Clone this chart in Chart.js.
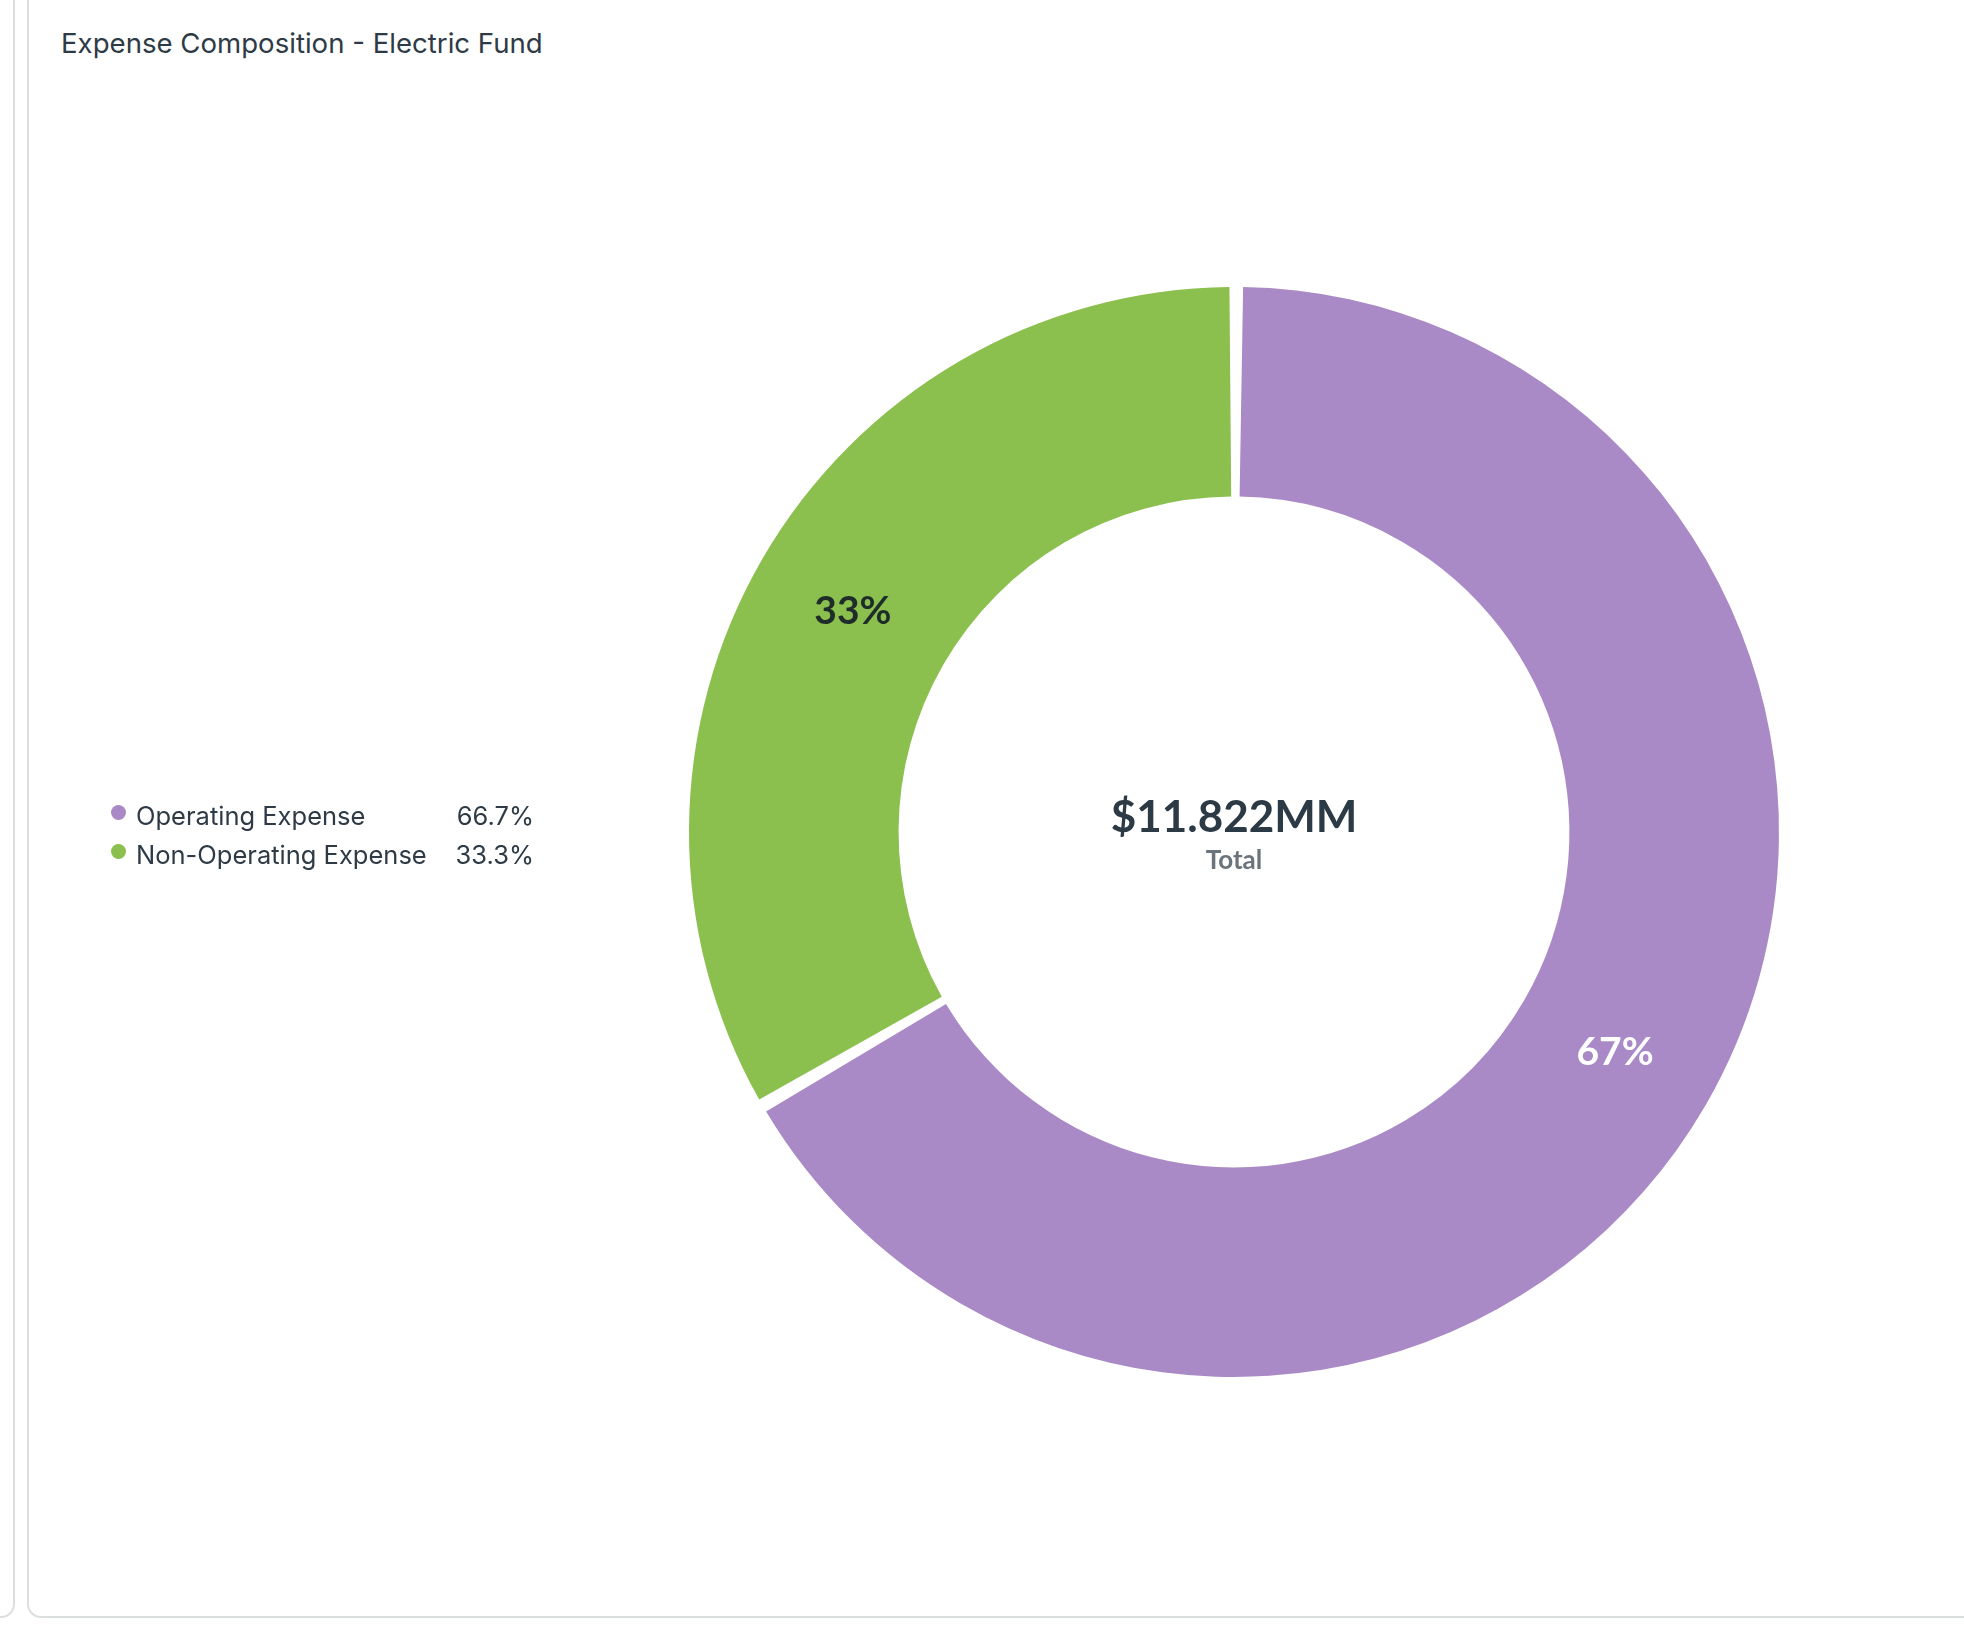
<!DOCTYPE html>
<html lang="en">
<head>
    <meta charset="UTF-8">
    <title>Expense Composition - Electric Fund</title>
    <script src="https://cdn.jsdelivr.net/npm/chart.js"></script>
    <style>
        html, body {
            margin: 0;
            padding: 0;
            background: #fff;
            overflow: hidden;
        }
        #page {
            position: relative;
            width: 1964px;
            height: 1627px;
        }
        .card {
            position: absolute;
            border: 2px solid #dcdfe0;
            border-radius: 14px;
            box-sizing: border-box;
        }
        #prevCard {
            left: -120px;
            width: 135px;
            top: -30px;
            height: 1648px;
        }
        #mainCard {
            left: 27px;
            width: 2000px;
            top: -30px;
            height: 1648px;
        }
        #title {
            position: absolute;
            left: 61px;
            top: 26px;
            font-family: Inter, "Noto Sans", sans-serif;
            font-size: 27.6px;
            font-weight: 400;
            color: #2e3b46;
        }
        #legend {
            position: absolute;
            left: 111px;
            top: 796px;
            width: 423px;
            font-family: Inter, "Noto Sans", sans-serif;
            font-size: 25.5px;
            color: #2e3b46;
            white-space: nowrap;
        }
        .legend-row {
            display: flex;
            align-items: center;
            height: 39px;
        }
        .legend-dot {
            flex: none;
            width: 15px;
            height: 15px;
            border-radius: 50%;
            margin-right: 10px;
            margin-top: -6px;
        }
        .legend-value {
            margin-left: auto;
            text-align: right;
        }
        #chartBox {
            position: absolute;
            left: 0;
            top: 0;
            width: 1964px;
            height: 1627px;
        }
    </style>
</head>
<body>
<div id="page">
    <div class="card" id="prevCard"></div>
    <div class="card" id="mainCard"></div>
    <div id="title">Expense Composition - Electric Fund</div>
    <div id="chartBox"><canvas id="expenseChart"></canvas></div>
    <div id="legend"></div>
</div>

<script>
    // expense categories and amounts ($MM)
    const categories = ['Operating Expense', 'Non-Operating Expense'];
    const amounts = [7.885, 3.937];
    const sliceColors = ['#a98ac6', '#8bbf4e'];
    const labelColors = ['#ffffff', '#1f2d2a'];
    const centerCaption = 'Total';

    const total = amounts.reduce((a, b) => a + b, 0);
    const shares = amounts.map(v => v / total * 100);

    // legend on the left with share column
    const legend = document.getElementById('legend');
    categories.forEach((name, i) => {
        const row = document.createElement('div');
        row.className = 'legend-row';
        row.innerHTML =
            '<span class="legend-dot" style="background:' + sliceColors[i] + '"></span>' +
            '<span class="legend-label">' + name + '</span>' +
            '<span class="legend-value">' + shares[i].toFixed(1) + '%</span>';
        legend.appendChild(row);
    });

    // percentage labels on each slice
    const sliceLabels = {
        id: 'sliceLabels',
        afterDatasetsDraw(chart) {
            const ctx = chart.ctx;
            const meta = chart.getDatasetMeta(0);
            ctx.save();
            ctx.font = 'bold 39px Lato, sans-serif';
            ctx.textAlign = 'center';
            ctx.textBaseline = 'middle';
            meta.data.forEach((arc, i) => {
                const pos = arc.tooltipPosition();
                ctx.fillStyle = labelColors[i];
                ctx.fillText(Math.round(shares[i]) + '%', pos.x, pos.y);
            });
            ctx.restore();
        }
    };

    // total in the middle of the ring
    const centerText = {
        id: 'centerText',
        afterDatasetsDraw(chart) {
            const ctx = chart.ctx;
            const arc = chart.getDatasetMeta(0).data[0];
            ctx.save();
            ctx.textAlign = 'center';
            ctx.textBaseline = 'alphabetic';
            ctx.fillStyle = '#2c3a45';
            ctx.font = 'bold 44px Lato, sans-serif';
            ctx.fillText('$' + total.toFixed(3) + 'MM', arc.x, arc.y);
            ctx.fillStyle = '#6b737b';
            ctx.font = 'bold 26px Lato, sans-serif';
            ctx.fillText(centerCaption, arc.x, arc.y + 37);
            ctx.restore();
        }
    };

    const ctx = document.getElementById('expenseChart').getContext('2d');
    new Chart(ctx, {
        type: 'doughnut',
        data: {
            labels: categories,
            datasets: [{
                data: amounts,
                backgroundColor: sliceColors,
                borderWidth: 0,
                hoverOffset: 0
            }]
        },
        options: {
            responsive: true,
            maintainAspectRatio: false,
            animation: false,
            cutout: '61.3%',
            spacing: 7,
            layout: {
                padding: { left: 689, right: 185, top: 287, bottom: 250 }
            },
            plugins: {
                legend: { display: false },
                tooltip: { enabled: false }
            }
        },
        plugins: [sliceLabels, centerText]
    });
</script>
</body>
</html>
